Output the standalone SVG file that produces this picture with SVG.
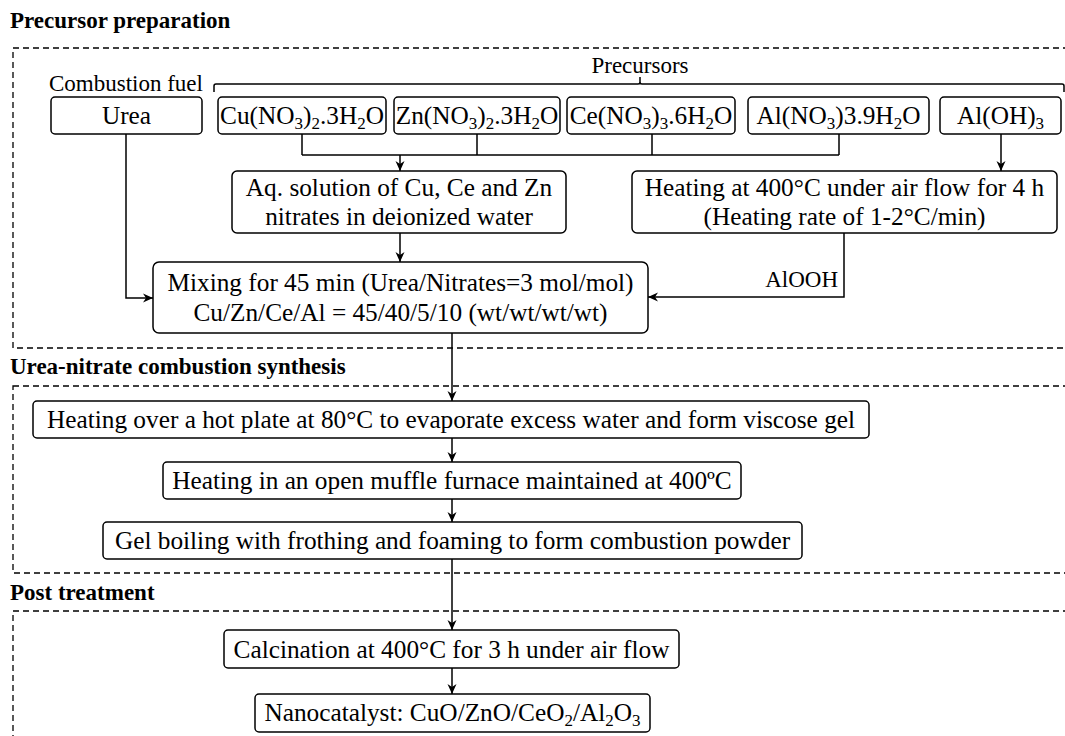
<svg xmlns="http://www.w3.org/2000/svg" width="1065" height="736" viewBox="0 0 1065 736">
<defs>
<marker id="ah" viewBox="0 0 10 10" refX="10" refY="5" markerWidth="10" markerHeight="10" markerUnits="userSpaceOnUse" orient="auto">
<path d="M0,0.5 L10,5 L0,9.5 L3,5 z" fill="#000"/>
</marker>
<style>
.sec{fill:none;stroke:#000;stroke-width:1.3;stroke-dasharray:6 4}
.box{fill:#fff;stroke:#000;stroke-width:1.5}
.t{font-family:"Liberation Serif","Times New Roman","DejaVu Serif",serif;font-size:25.3px;fill:#000;text-anchor:middle}
.l{font-family:"Liberation Serif","Times New Roman","DejaVu Serif",serif;font-size:23px;fill:#000}
.h{font-family:"Liberation Serif","Times New Roman","DejaVu Serif",serif;font-size:23px;font-weight:bold;fill:#000}
.s{font-size:17px}
.c{fill:none;stroke:#000;stroke-width:1.5}
</style>
</defs>
<rect width="1065" height="736" fill="#fff"/>

<g id="sections">
<text class="h" x="10" y="28">Precursor preparation</text>
<rect class="sec" x="13" y="48" width="1070" height="300"/>
<text class="h" x="10" y="374">Urea-nitrate combustion synthesis</text>
<rect class="sec" x="13" y="386" width="1070" height="187"/>
<text class="h" x="10" y="600">Post treatment</text>
<rect class="sec" x="13" y="611" width="1070" height="140"/>
</g>

<g id="labels">
<text class="l" x="49" y="91">Combustion fuel</text>
<text class="l" x="640" y="73" text-anchor="middle">Precursors</text>
<path class="c" d="M214,92 V86 Q214,84 216,84 H638 Q640,84 640,82 V77 M640,82 Q640,84 642,84 H1062 Q1064,84 1064,86 V92"/>
</g>

<g id="connectors">
<path class="c" d="M302,134 V155 M477,134 V155 M652,134 V155 M839,134 V155 M302,155 H839"/>
<path class="c" d="M400,155 V171" marker-end="url(#ah)"/>
<path class="c" d="M1001,134 V171" marker-end="url(#ah)"/>
<path class="c" d="M126,134 V298 H153" marker-end="url(#ah)"/>
<path class="c" d="M400,233 V262" marker-end="url(#ah)"/>
<path class="c" d="M844,233 V297 H648" marker-end="url(#ah)"/>
<text class="l" x="838" y="287" text-anchor="end">AlOOH</text>
<path class="c" d="M452,333 V401" marker-end="url(#ah)"/>
<path class="c" d="M452,438 V462" marker-end="url(#ah)"/>
<path class="c" d="M452,499 V522" marker-end="url(#ah)"/>
<path class="c" d="M452,559 V630" marker-end="url(#ah)"/>
<path class="c" d="M452,668 V694" marker-end="url(#ah)"/>
</g>

<g id="urea">
<rect class="box" x="51" y="97" width="151" height="37" rx="4"/>
<text class="t" x="126.5" y="124">Urea</text>
</g>
<g id="cu">
<rect class="box" x="218" y="97" width="168" height="37" rx="4"/>
<text class="t" x="302" y="124">Cu(NO<tspan class="s" dy="5">3</tspan><tspan dy="-5">)</tspan><tspan class="s" dy="5">2</tspan><tspan dy="-5">.3H</tspan><tspan class="s" dy="5">2</tspan><tspan dy="-5">O</tspan></text>
</g>
<g id="zn">
<rect class="box" x="394" y="97" width="166" height="37" rx="4"/>
<text class="t" x="477" y="124">Zn(NO<tspan class="s" dy="5">3</tspan><tspan dy="-5">)</tspan><tspan class="s" dy="5">2</tspan><tspan dy="-5">.3H</tspan><tspan class="s" dy="5">2</tspan><tspan dy="-5">O</tspan></text>
</g>
<g id="ce">
<rect class="box" x="567" y="97" width="168" height="37" rx="4"/>
<text class="t" x="651" y="124">Ce(NO<tspan class="s" dy="5">3</tspan><tspan dy="-5">)</tspan><tspan class="s" dy="5">3</tspan><tspan dy="-5">.6H</tspan><tspan class="s" dy="5">2</tspan><tspan dy="-5">O</tspan></text>
</g>
<g id="al-nitrate">
<rect class="box" x="748" y="97" width="181" height="37" rx="4"/>
<text class="t" x="838.5" y="124">Al(NO<tspan class="s" dy="5">3</tspan><tspan dy="-5">)3.9H</tspan><tspan class="s" dy="5">2</tspan><tspan dy="-5">O</tspan></text>
</g>
<g id="al-hydroxide">
<rect class="box" x="940" y="97" width="121" height="37" rx="4"/>
<text class="t" x="1000.5" y="124">Al(OH)<tspan class="s" dy="5">3</tspan></text>
</g>
<g id="aq">
<rect class="box" x="232" y="171" width="334" height="62" rx="5"/>
<text class="t" x="399" y="196">Aq. solution of Cu, Ce and Zn</text>
<text class="t" x="399" y="225">nitrates in deionized water</text>
</g>
<g id="heating400">
<rect class="box" x="632" y="171" width="425" height="62" rx="5"/>
<text class="t" x="844.5" y="196">Heating at 400°C under air flow for 4 h</text>
<text class="t" x="844.5" y="225">(Heating rate of 1-2°C/min)</text>
</g>
<g id="mixing">
<rect class="box" x="153" y="262" width="495" height="71" rx="6"/>
<text class="t" x="400.5" y="291">Mixing for 45 min (Urea/Nitrates=3 mol/mol)</text>
<text class="t" x="400.5" y="321">Cu/Zn/Ce/Al = 45/40/5/10 (wt/wt/wt/wt)</text>
</g>
<g id="hotplate">
<rect class="box" x="33" y="401" width="836" height="37" rx="4"/>
<text class="t" x="451" y="428">Heating over a hot plate at 80°C to evaporate excess water and form viscose gel</text>
</g>
<g id="muffle">
<rect class="box" x="163" y="462" width="578" height="37" rx="4"/>
<text class="t" x="452" y="489">Heating in an open muffle furnace maintained at 400ºC</text>
</g>
<g id="gel">
<rect class="box" x="103" y="522" width="699" height="37" rx="4"/>
<text class="t" x="452.5" y="549">Gel boiling with frothing and foaming to form combustion powder</text>
</g>
<g id="calcination">
<rect class="box" x="224" y="630" width="455" height="38" rx="4"/>
<text class="t" x="451.5" y="657.5">Calcination at 400°C for 3 h under air flow</text>
</g>
<g id="nano">
<rect class="box" x="255" y="694" width="395" height="38" rx="4"/>
<text class="t" x="452.5" y="721">Nanocatalyst: CuO/ZnO/CeO<tspan class="s" dy="5">2</tspan><tspan dy="-5">/Al</tspan><tspan class="s" dy="5">2</tspan><tspan dy="-5">O</tspan><tspan class="s" dy="5">3</tspan></text>
</g>
</svg>
